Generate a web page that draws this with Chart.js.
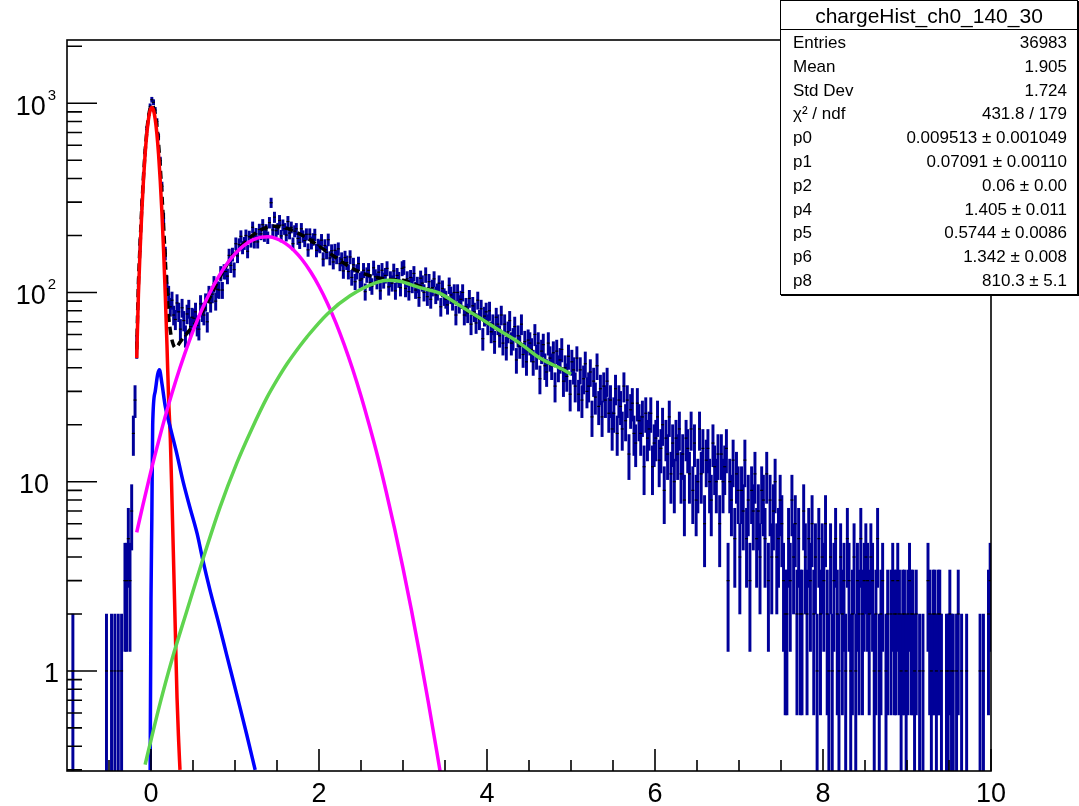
<!DOCTYPE html>
<html>
<head>
<meta charset="utf-8">
<script src="https://cdn.jsdelivr.net/npm/chart.js@4.4.1/dist/chart.umd.min.js"></script>
<style>
  body { margin: 0; background: #fff; }
  #wrap { position: relative; width: 1079px; height: 806px; }
  #stats {
    position: absolute; left: 780px; top: 0; width: 296px; height: 293px;
    border: 1px solid #000; box-shadow: 1px 1px 0 #000; background: #fff;
    font-family: "Liberation Sans", Arial, sans-serif; color: #000;
  }
  #stats .title {
    height: 28px; border-bottom: 1px solid #000; text-align: center;
    font-size: 21px; line-height: 30px;
  }
  #stats .row {
    position: absolute; left: 12px; right: 10px; height: 22px;
    font-size: 17px; line-height: 22px;
  }
  #stats .row span:last-child { position: absolute; right: 0; }
</style>
</head>
<body>
<div id="wrap">
  <canvas id="hist" width="1079" height="806"></canvas>
  <div id="stats"></div>
</div>
<script>
// histogram binning and counts (charge, 550 bins from -1 to 10)
const binLow = -1;
const binWidth = 0.02;
const counts = [
  0,0,0,1,0, 0,0,0,0,0, 0,0,0,0,0, 0,0,0,0,0, 0,0,0,1,0,
  0,1,0,1,0, 1,0,1,0,3, 3,5,3,7,18, 27,52,108,178,291, 412,548,726,851,962,
  1043,1012,920,801,664, 497,364,247,161,112, 98,84,91,76,72, 88,79,64,83,71, 59,77,82,66,74,
  73,79,67,64,87, 79,76,89,70,98, 88,98,111,90,104, 103,126,103,129,129, 122,157,139,159,132,
  181,156,179,198,173, 182,200,165,197,187, 221,185,204,185,215, 204,228,200,214,195, 234,298,214,250,212,
  217,240,199,227,217, 201,237,206,221,181, 211,217,193,184,217, 198,188,203,168,203, 183,191,202,167,178,
  175,189,150,177,163, 190,152,166,145,167, 154,170,142,150,130, 153,144,129,154,120, 140,114,129,142,116,
  118,131,101,124,131, 113,108,135,121,115, 128,102,131,116,123, 134,107,118,112,130, 102,123,117,106,134,
  136,105,118,101,120, 110,126,103,110,94, 119,112,100,124,95, 114,92,106,118,97, 101,112,84,105,95,
  92,86,109,97,90, 100,76,100,87,92, 100,76,84,78,93, 68,85,79,69,91, 72,82,57,75,79,
  68,80,62,68,55, 74,68,59,76,54, 68,51,62,71,54, 57,66,44,59,52, 68,47,55,43,56,
  54,50,43,60,46, 54,35,49,53,41, 38,54,45,41,48, 32,49,40,44,50, 34,40,36,46,29,
  43,39,32,45,29, 39,27,35,42,30, 32,38,22,34,28, 41,25,31,22,32, 27,34,23,27,19,
  23,31,18,27,25, 19,32,21,27,14, 24,26,18,16,26, 21,18,22,12,23, 17,19,23,12,16,
  17,22,13,15,20, 9,17,14,22,11, 16,10,17,14,19, 11,14,8,17,15, 11,19,9,16,8,
  10,19,11,15,6, 13,15,10,8,16, 12,10,14,6,14, 10,12,15,3,10, 8,13,5,11,9,
  4,9,7,13,5, 8,3,9,7,11, 5,7,4,9,8, 5,11,3,8,4, 7,10,4,5,8,
  6,3,2,2,5, 3,8,4,6,2, 5,2,2,7,4, 2,5,3,6,2, 4,1,5,2,4,
  3,6,2,1,4, 1,3,5,2,1, 4,2,3,1,5, 3,1,2,4,1, 3,2,5,2,3,
  4,3,2,4,3, 1,2,5,1,2, 3,0,1,2,0, 2,3,2,2,3, 2,1,2,2,1,
  2,3,2,2,1, 2,0,1,0,1, 0,0,3,2,1, 2,2,1,2,2, 1,0,0,1,1,
  2,1,1,0,1, 2,0,1,0,0, 1,0,0,0,0, 0,0,0,1,0, 1,0,0,2,3
];

// fit components, sampled along x
const totalX = [-0.17,-0.15,-0.13,-0.11,-0.09,-0.07,-0.05,-0.03,-0.01,0.01,0.03,0.05,0.07,0.09,0.11,0.13,0.15,0.17,0.19,0.21,0.23,0.25,0.29,0.35,0.43,0.55,0.65,0.74,0.84,0.94,1.04,1.14,1.26,1.38,1.5,1.62,1.74,1.86,1.98,2.1,2.23,2.37,2.53,2.69,2.85,3.0,3.15,3.3,3.44,3.68,3.92,4.15,4.39,4.63,4.93,5.0];
const totalY = [50,110,180,280,405,555,710,845,940,975,950,870,760,610,460,330,225,150,100,75,63,56,51,55,61,71,85,102,125,148,168,188,208,221,224,218,207,194,178,164,150,136,126,120,117,116,110,104,99,85,73,63,54,45,38.6,37];

const pedX = [-0.17,-0.15,-0.13,-0.11,-0.09,-0.07,-0.05,-0.03,-0.01,0.01,0.03,0.05,0.07,0.09,0.11,0.13,0.15,0.17,0.19,0.21,0.23,0.25,0.27,0.29,0.31,0.33,0.345];
const pedY = [45,97,166,264,390,538,690,824,917,950,917,824,690,538,390,264,166,97,53,27,17,8,3.6,1.6,0.72,0.42,0.3];

const expX = [-0.01,0,0.01,0.02,0.05,0.08,0.1,0.13,0.17,0.23,0.3,0.38,0.46,0.55,0.62,0.7,0.82,0.9,0.98,1.06,1.14,1.24];
const expY = [0.3,2.4,6.4,20,30,37,39,33,25,19.3,14.5,10.1,7.4,5.3,3.8,2.7,1.69,1.22,0.885,0.64,0.46,0.3];

const pe1X = [-0.17,-0.1,0,0.1,0.2,0.3,0.4,0.5,0.6,0.7,0.8,0.9,1.0,1.1,1.2,1.3,1.4,1.5,1.6,1.7,1.8,1.9,2.0,2.1,2.2,2.3,2.4,2.5,2.6,2.7,2.8,2.9,3.0,3.1,3.2,3.3,3.4,3.45];
const pe1Y = [5.4,7.4,11.4,17,24.7,34.7,47.2,62.5,80.1,99.7,120.3,140.9,160,176.3,188.5,195.5,196.7,192,181.8,167,148.8,128.6,107.9,87.8,69.3,53,39.4,28.4,19.8,13.5,8.85,5.65,3.49,2.1,1.22,0.69,0.38,0.28];

const peNX = [-0.07,0.01,0.11,0.25,0.43,0.61,0.82,1.02,1.2,1.38,1.5,1.62,1.77,1.86,2.1,2.37,2.69,2.82,2.96,3.2,3.44,3.68,3.92,4.15,4.39,4.63,4.93,5.0];
const peNY = [0.32,0.45,0.68,1.15,2.1,3.8,7.3,12.5,19,27.8,34.5,42,52,58.5,77,96,113,116,114.5,106,99,85,73,63,54,45,38.6,37];

// axis ticks
const xMajor = [0, 2, 4, 6, 8, 10];
const xMinor = [-0.5, 0.5, 1, 1.5, 2.5, 3, 3.5, 4.5, 5, 5.5, 6.5, 7, 7.5, 8.5, 9, 9.5];
const yLabels = [
  { v: 1, base: '1', exp: '', right: 59 },
  { v: 10, base: '10', exp: '', right: 49 },
  { v: 100, base: '10', exp: '2', right: 56 },
  { v: 1000, base: '10', exp: '3', right: 56 }
];

// stats box
const statTitle = 'chargeHist_ch0_140_30';
const statNames = ['Entries', 'Mean', 'Std Dev', 'χ² / ndf', 'p0', 'p1', 'p2', 'p4', 'p5', 'p6', 'p8'];
const statValues = ['36983', '1.905', '1.724', '431.8 / 179', '0.009513 ± 0.001049', '0.07091 ± 0.00110',
  '0.06 ± 0.00', '1.405 ± 0.011', '0.5744 ± 0.0086', '1.342 ± 0.008', '810.3 ± 5.1'];

const yMin = 0.296, yMax = 2158;

function pts(xs, ys) {
  return xs.map((x, i) => ({ x: x, y: ys[i] }));
}

let errorBars = [];
let markers = [];
for (let i = 0; i < counts.length; i++) {
  const n = counts[i];
  if (n <= 0) continue;
  const c = binLow + binWidth * (i + 0.5);
  const e = Math.sqrt(n);
  errorBars.push({ x: c, y: [Math.max(n - e, 0.01), n + e] });
  markers.push({ x: c, y: n });
}

function fitLine(data, color, order) {
  return {
    type: 'line', data: data, borderColor: color, borderWidth: 3.5,
    pointRadius: 0, cubicInterpolationMode: 'monotone', fill: false,
    order: order, clip: 0
  };
}

const FONT = '"Liberation Sans", Arial, sans-serif';

// frame, inward ticks and axis labels in ROOT style
const rootAxes = {
  id: 'rootAxes',
  afterDatasetsDraw(chart) {
    const { ctx, chartArea: a, scales: { x, y } } = chart;
    ctx.save();
    ctx.strokeStyle = '#000';
    ctx.lineWidth = 1.6;
    ctx.strokeRect(a.left, a.top, a.right - a.left, a.bottom - a.top);

    ctx.beginPath();
    xMajor.forEach(v => {
      const px = x.getPixelForValue(v);
      ctx.moveTo(px, a.bottom); ctx.lineTo(px, a.bottom - 22);
    });
    xMinor.forEach(v => {
      const px = x.getPixelForValue(v);
      ctx.moveTo(px, a.bottom); ctx.lineTo(px, a.bottom - 11);
    });
    for (let d = 0.1; d <= 1000; d *= 10) {
      for (let k = 1; k <= 9; k++) {
        const v = k * d;
        if (v < yMin || v > yMax) continue;
        const py = y.getPixelForValue(v);
        ctx.moveTo(a.left, py);
        ctx.lineTo(a.left + (k === 1 ? 30 : 15), py);
      }
    }
    ctx.stroke();

    ctx.fillStyle = '#000';
    ctx.font = '27px ' + FONT;
    ctx.textAlign = 'center';
    ctx.textBaseline = 'alphabetic';
    xMajor.forEach(v => {
      ctx.fillText(String(v), x.getPixelForValue(v), 802);
    });

    ctx.textAlign = 'right';
    yLabels.forEach(l => {
      const py = y.getPixelForValue(l.v);
      if (l.exp) {
        ctx.font = '15px ' + FONT;
        const w = ctx.measureText(l.exp).width;
        ctx.fillText(l.exp, l.right, py - 3);
        ctx.font = '27px ' + FONT;
        ctx.fillText(l.base, l.right - w - 2, py + 12);
      } else {
        ctx.font = '27px ' + FONT;
        ctx.fillText(l.base, l.right, py + 11);
      }
    });
    ctx.restore();
  }
};

const ctx = document.getElementById('hist').getContext('2d');
new Chart(ctx, {
  type: 'line',
  data: {
    datasets: [
      fitLine(pts(peNX, peNY), '#5fd44f', 1),
      fitLine(pts(pe1X, pe1Y), '#ff00ff', 2),
      fitLine(pts(expX, expY), '#0000ff', 3),
      fitLine(pts(pedX, pedY), '#ff0000', 4),
      Object.assign(fitLine(pts(totalX, totalY), '#000000', 5), { borderDash: [8, 5] }),
      {
        type: 'line', data: markers, showLine: false, pointStyle: 'line',
        pointRadius: 1.5, pointBorderWidth: 1.2, pointBorderColor: '#000',
        pointBackgroundColor: '#000', order: 6, clip: 0
      },
      {
        type: 'bar', data: errorBars, backgroundColor: '#000099',
        barThickness: 2.3, borderWidth: 0, grouped: false, order: 7, clip: 0
      }
    ]
  },
  options: {
    responsive: false,
    animation: false,
    events: [],
    layout: { padding: { left: 0, top: 40, right: 88, bottom: 0 } },
    plugins: { legend: { display: false }, tooltip: { enabled: false } },
    scales: {
      x: {
        type: 'linear', min: -1, max: 10, offset: false,
        grid: { display: false }, border: { display: false },
        ticks: { display: false },
        afterFit(s) { s.height = 35; }
      },
      y: {
        type: 'logarithmic', min: yMin, max: yMax,
        grid: { display: false }, border: { display: false },
        ticks: { display: false },
        afterFit(s) { s.width = 67; }
      }
    }
  },
  plugins: [rootAxes]
});

// stats box text
const box = document.getElementById('stats');
const t = document.createElement('div');
t.className = 'title';
t.textContent = statTitle;
box.appendChild(t);
statNames.forEach((name, i) => {
  const row = document.createElement('div');
  row.className = 'row';
  row.style.top = (43 + i * 23.8 - 12) + 'px';
  const a = document.createElement('span');
  a.textContent = name;
  const b = document.createElement('span');
  b.textContent = statValues[i];
  row.appendChild(a);
  row.appendChild(b);
  box.appendChild(row);
});
</script>
</body>
</html>
